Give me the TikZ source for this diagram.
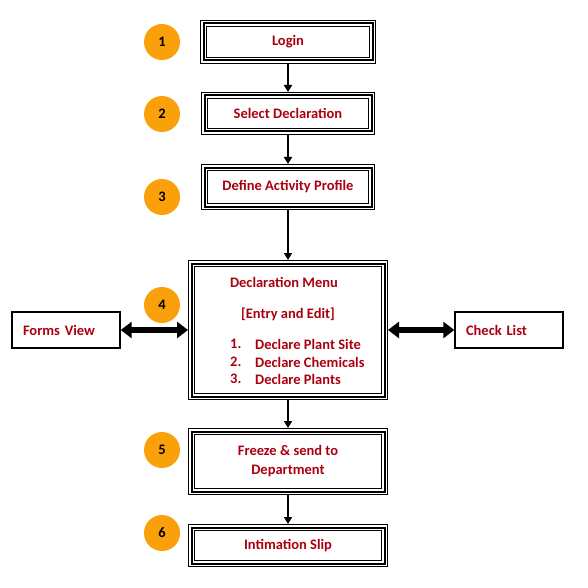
\documentclass[tikz,border=0pt]{standalone}
\usepackage{fontspec}
\setmainfont{Carlito}
\usetikzlibrary{arrows.meta, positioning}
\definecolor{declred}{RGB}{170,0,15}
\definecolor{steporange}{RGB}{250,160,10}
\newcommand{\declfont}{\fontsize{14.5}{19}\selectfont\bfseries}

\begin{document}
\begin{tikzpicture}[x=1pt, y=-1pt,
    frame/.style={rectangle, draw, line width=2pt, preaction={draw, line width=7pt}, preaction={draw=white, line width=4.6pt}, outer sep=3.5pt, inner sep=0pt, align=center, text=declred, font=\declfont},
    side/.style={rectangle, draw, line width=1.4pt, minimum width=108pt, minimum height=36pt, inner xsep=11pt, text width=86pt, align=left, text=declred, font=\declfont},
    num/.style={circle, fill=steporange, minimum size=36pt, inner sep=0pt, font=\declfont},
    item/.style={anchor=west, inner sep=0pt, text=declred, font=\declfont},
    flow/.style={-{Triangle[width=8pt,length=7pt]}, line width=2pt},
    both/.style={{Triangle[width=16pt,length=11pt]}-{Triangle[width=16pt,length=11pt]}, line width=5.5pt}]
\useasboundingbox (0,0) rectangle (588,588);
% main column
\node[frame, minimum width=169pt, minimum height=37pt] (login) at (288,42) {Login};
\node[frame, minimum width=167pt, minimum height=36pt] (select) at (288,113.5) {Select Declaration};
\node[frame, minimum width=167pt, minimum height=39pt] (profile) at (288,187) {Define Activity Profile};
\node[frame, minimum width=193pt, minimum height=133pt] (menu) at (288,330) {};
\node[frame, minimum width=193pt, minimum height=60pt] (freeze) at (288,461.5) {Freeze \& send to\\Department};
\node[frame, minimum width=193pt, minimum height=36pt] (slip) at (288,545.5) {Intimation Slip};
% menu entries
\node[inner sep=0pt, text=declred, font=\declfont] (mtitle) at (284,282) {Declaration Menu};
\node[inner sep=0pt, text=declred, font=\declfont] (medit) at (288,314) {[Entry and Edit]};
\node[item] (n1) at (230,344) {1.};
\node[item] (n2) at (230,362) {2.};
\node[item] (n3) at (230,379) {3.};
\node[item] (e1) at (255,344) {Declare Plant Site};
\node[item] (e2) at (255,362) {Declare Chemicals};
\node[item] (e3) at (255,379) {Declare Plants};
% side boxes
\node[side] (forms) at (66,330) {Forms View};
\node[side] (check) at (509,330) {Check List};
% step numbers
\node[num] (s1) at (162,42) {1};
\node[num] (s2) at (162,114) {2};
\node[num] (s3) at (162,197) {3};
\node[num] (s4) at (162,305) {4};
\node[num] (s5) at (162,450) {5};
\node[num] (s6) at (162,533) {6};
% connectors
\draw[flow] (login) -- (select);
\draw[flow] (select) -- (profile);
\draw[flow] (profile) -- (menu);
\draw[flow] (menu) -- (freeze);
\draw[flow] (freeze) -- (slip);
\draw[both] (forms) -- (menu);
\draw[both] (menu) -- (check);
\end{tikzpicture}
\end{document}
